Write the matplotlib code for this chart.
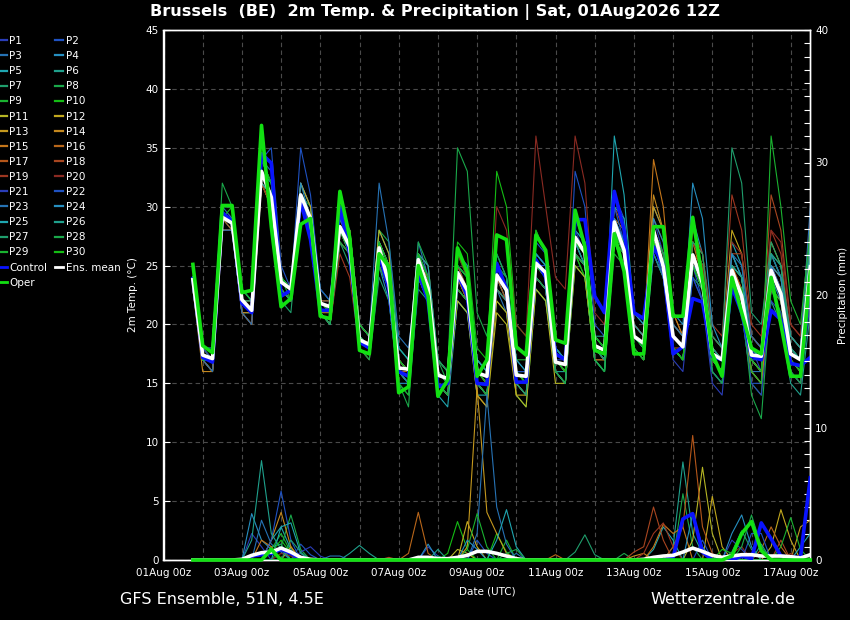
import matplotlib
matplotlib.use('Agg')
import matplotlib.pyplot as plt
import numpy as np
from matplotlib.lines import Line2D

# ---------------- data ----------------
# forecast steps: 6-hourly, +6h .. +384h after 01Aug2026 12Z
steps = np.arange(1, 65)
x_days = 0.5 + 0.25 * steps          # days since 01Aug 00z

tick_days = list(range(0, 17))
tick_labels = ['%02dAug 00z' % (d + 1) if d % 2 == 0 else '' for d in tick_days]

mean_temp = [23.8, 17.4, 17.1, 29.1, 28.6, 22.1, 21.2, 33.0, 30.8, 23.6, 23.0, 31.0,
             29.0, 21.8, 21.5, 28.3, 26.6, 18.7, 18.3, 26.5, 23.5, 16.3, 16.2, 25.5,
             23.1, 15.7, 15.4, 24.4, 22.9, 15.9, 15.6, 24.2, 22.9, 15.7, 15.6, 25.2,
             24.4, 16.8, 16.6, 27.4, 26.1, 18.2, 17.8, 28.7, 26.3, 19.0, 18.4, 28.0,
             24.9, 19.0, 18.1, 25.9, 23.5, 17.5, 17.0, 24.6, 22.4, 17.4, 17.3, 24.6,
             22.6, 17.5, 17.0, 24.9]
oper_temp = [25.1, 18.2, 17.6, 30.1, 30.1, 22.7, 22.9, 36.9, 28.3, 21.5, 22.2, 28.5,
             29.0, 20.7, 20.5, 31.3, 27.4, 17.8, 17.5, 26.0, 24.9, 14.2, 14.7, 25.0,
             22.4, 13.9, 15.3, 26.5, 24.4, 15.6, 17.0, 27.6, 27.2, 18.1, 17.4, 27.6,
             26.3, 18.7, 18.4, 29.7, 26.6, 17.8, 17.5, 27.7, 24.5, 17.5, 17.5, 28.3,
             28.3, 20.7, 20.7, 29.1, 23.8, 17.5, 15.6, 24.0, 21.0, 18.0, 17.5, 24.0,
             20.0, 15.6, 15.6, 24.5]
ctrl_temp = [23.9, 17.2, 16.8, 29.5, 28.8, 21.8, 21.0, 34.5, 33.7, 22.4, 22.9, 30.5,
             27.2, 21.2, 21.2, 30.0, 26.0, 18.5, 18.0, 26.0, 23.0, 16.0, 15.6, 24.4,
             22.0, 14.7, 15.0, 24.4, 22.4, 15.0, 14.9, 25.2, 23.0, 15.1, 15.1, 25.5,
             24.0, 17.5, 17.0, 28.9, 28.9, 22.4, 21.0, 31.3, 28.0, 21.0, 20.5, 26.6,
             25.0, 17.5, 18.1, 22.2, 21.9, 17.3, 17.0, 23.2, 21.0, 17.3, 17.0, 21.2,
             20.4, 16.7, 16.5, 17.2]

p01 = [24,18,17,29, 29,22,21,33, 32,24,23,31, 28,22,22,28, 26,19,18,27, 24,17,16,25, 22,15,14,23, 22,16,15,24, 22,15,15,24, 23,16,16,26, 25,18,17,28, 27,20,19,29, 26,20,19,27, 25,18,17,26, 24,18,16,23, 22,16,15,22]
p02 = [23,17,16,28, 28,22,21,34, 35,25,23,32, 30,23,22,30, 28,20,19,27, 24,16,15,26, 24,17,16,26, 25,17,16,25, 24,17,16,27, 26,18,17,29, 27,19,18,31, 29,21,20,27, 24,18,17,25, 22,16,15,24, 21,15,15,26, 24,19,18,26]
p03 = [24,17,17,30, 29,23,22,34, 33,23,22,30, 29,22,21,29, 28,20,19,28, 26,18,17,27, 24,17,16,25, 23,16,15,23, 21,15,14,24, 23,17,16,28, 27,19,18,27, 25,18,17,26, 24,18,17,25, 23,17,16,24, 22,16,16,25, 23,18,17,28]
p04 = [24,18,18,29, 28,21,21,32, 31,24,23,32, 30,22,21,27, 26,19,18,25, 22,15,15,24, 22,15,14,22, 21,15,14,23, 22,16,15,26, 25,18,17,27, 25,18,17,28, 26,19,18,30, 28,21,20,29, 26,19,18,26, 24,18,17,24, 22,17,16,24]
p05 = [23,17,17,29, 29,22,21,33, 31,24,23,31, 29,21,20,28, 27,19,18,25, 23,16,15,24, 22,14,13,22, 21,14,14,24, 23,16,16,26, 25,18,17,28, 27,19,18,36, 31,21,20,27, 24,19,18,25, 23,17,16,27, 25,19,18,26, 24,18,17,27]
p06 = [24,17,17,28, 28,21,21,32, 30,23,22,31, 29,22,21,29, 28,20,19,27, 25,17,16,25, 24,17,16,26, 25,17,16,24, 22,15,15,23, 22,16,16,27, 26,19,19,29, 27,20,19,28, 25,20,19,27, 25,18,17,23, 21,16,15,22, 20,15,14,21]
p07 = [25,18,17,30, 30,23,22,33, 30,22,21,30, 28,21,20,27, 25,18,17,24, 22,15,14,23, 22,16,15,25, 24,17,16,24, 23,16,15,25, 24,17,16,27, 26,19,18,28, 26,19,18,26, 24,18,17,24, 23,17,16,24, 23,17,16,23, 21,16,15,23]
p08 = [25,18,17,32, 30,22,21,32, 31,23,22,31, 30,23,22,29, 28,20,19,28, 27,18,17,27, 25,17,15,24, 22,15,14,22, 21,14,13,23, 22,16,15,25, 24,17,16,27, 25,18,17,27, 25,19,18,27, 25,18,17,26, 24,17,16,26, 25,19,18,27]
p09 = [24,17,16,29, 29,22,21,34, 32,24,22,30, 28,21,20,27, 26,19,18,26, 24,17,16,26, 25,17,16,26, 24,17,16,25, 24,17,17,28, 26,18,17,26, 24,17,16,26, 25,18,17,27, 25,18,17,25, 23,16,15,23, 21,15,14,25, 24,17,16,24]
p10 = [24,17,17,29, 30,23,22,34, 32,23,22,31, 29,22,21,28, 26,19,18,27, 24,16,15,26, 24,16,15,27, 26,18,17,33, 30,20,19,28, 26,17,16,26, 24,17,16,27, 25,18,17,26, 24,18,17,25, 23,17,16,25, 24,18,17,26, 24,18,17,25]
p11 = [23,17,16,28, 28,21,20,32, 30,23,22,30, 28,21,20,29, 28,20,19,28, 26,17,16,24, 22,15,14,22, 21,14,13,21, 20,14,13,23, 22,15,15,25, 24,17,17,27, 26,19,18,28, 26,19,18,26, 24,17,16,25, 24,17,16,24, 23,17,16,24]
p12 = [24,17,17,29, 29,22,22,33, 31,24,23,32, 30,22,21,28, 26,19,18,26, 24,17,16,25, 23,16,15,24, 22,15,14,22, 21,14,14,24, 23,16,15,26, 25,18,17,28, 26,18,17,27, 25,18,17,27, 26,19,18,28, 26,19,18,27, 25,19,18,26]
p13 = [24,17,16,29, 29,22,21,32, 31,24,23,31, 29,22,21,29, 27,19,18,27, 25,17,16,25, 24,16,15,23, 22,14,13,23, 22,15,14,24, 23,16,15,27, 26,18,17,28, 27,19,18,30, 28,20,19,27, 25,18,17,24, 22,16,15,23, 22,17,16,24]
p14 = [23,16,16,28, 28,21,21,33, 31,24,23,31, 28,21,21,29, 27,20,19,27, 25,17,16,24, 22,15,14,24, 23,16,15,24, 23,16,15,25, 24,17,16,26, 25,18,17,29, 28,20,19,31, 28,21,19,26, 24,18,17,25, 23,17,16,25, 23,17,16,24]
p15 = [24,17,17,29, 29,21,20,32, 30,23,22,31, 29,22,22,29, 27,20,19,27, 25,16,15,24, 23,15,14,23, 22,16,15,24, 23,16,15,25, 24,17,16,26, 25,18,17,27, 27,20,19,34, 30,21,19,27, 24,17,16,23, 22,16,15,23, 22,16,15,24]
p16 = [24,17,17,29, 28,22,21,33, 31,23,22,30, 28,21,20,27, 26,19,18,26, 24,16,16,25, 23,16,15,24, 22,15,14,23, 22,15,15,25, 24,17,16,27, 26,18,18,28, 27,19,18,28, 26,19,18,26, 24,17,16,24, 23,17,16,25, 24,18,17,27]
p17 = [24,18,17,29, 29,22,21,33, 31,24,23,31, 29,22,21,28, 27,19,18,26, 24,17,16,25, 23,16,15,25, 23,16,15,24, 22,15,14,24, 23,16,15,26, 25,17,17,28, 26,19,18,27, 25,18,18,26, 25,18,17,25, 23,17,16,24, 23,17,16,25]
p18 = [24,17,17,29, 29,22,21,33, 31,24,23,31, 29,22,21,28, 28,20,19,27, 25,17,16,25, 24,16,15,24, 23,16,15,24, 23,16,15,25, 24,17,16,27, 26,18,17,30, 28,20,19,28, 26,19,18,25, 23,17,16,26, 26,19,18,31, 28,20,19,28]
p19 = [23,17,16,28, 28,21,20,32, 30,23,22,30, 28,21,20,26, 24,18,17,25, 23,16,15,24, 22,15,14,23, 22,15,14,23, 22,16,15,25, 24,17,16,27, 26,19,18,28, 27,20,19,29, 27,20,19,28, 26,20,19,31, 28,20,19,28, 26,19,18,27]
p20 = [24,17,17,29, 29,22,21,33, 31,24,23,31, 29,22,21,28, 26,19,18,26, 24,17,16,26, 25,17,16,26, 24,17,16,30, 28,20,19,36, 30,24,23,36, 32,21,20,29, 27,20,19,28, 26,20,19,27, 25,19,18,27, 26,19,18,28, 27,20,19,29]
p21 = [24,17,17,29, 29,22,21,33, 31,24,23,31, 29,22,21,28, 27,19,18,26, 24,16,15,25, 23,16,15,24, 23,15,15,24, 23,16,15,25, 25,17,17,28, 26,18,18,29, 27,19,18,27, 24,17,16,24, 22,15,14,23, 21,15,14,22, 21,16,15,23]
p22 = [24,18,17,30, 30,22,21,33, 31,24,23,35, 31,23,22,29, 27,19,18,26, 23,16,15,25, 23,15,14,24, 23,15,15,24, 23,16,16,26, 25,18,17,33, 30,20,19,30, 27,19,18,27, 25,18,17,24, 22,16,15,24, 23,17,17,25, 23,18,17,24]
p23 = [23,17,16,28, 28,21,20,33, 31,23,22,31, 28,21,20,28, 27,20,19,32, 27,19,18,25, 23,16,15,24, 23,15,14,25, 23,16,15,24, 23,16,15,26, 25,18,17,28, 26,19,18,26, 24,18,17,25, 24,18,17,26, 25,19,18,26, 24,19,18,30]
p24 = [24,17,17,29, 29,22,21,33, 32,24,23,32, 29,22,21,29, 27,20,19,27, 25,17,16,26, 24,16,15,25, 24,17,16,25, 23,16,15,25, 24,17,16,27, 25,18,17,29, 27,19,18,29, 27,20,19,32, 29,20,18,26, 24,17,16,25, 24,18,17,26]
p25 = [24,17,17,29, 29,22,21,32, 31,23,22,30, 28,21,20,28, 27,19,18,27, 25,18,17,26, 25,17,16,25, 24,17,16,26, 24,17,16,26, 25,18,17,27, 26,19,18,30, 29,20,19,28, 26,19,18,25, 23,17,16,25, 24,18,17,24, 23,17,16,27]
p26 = [24,17,17,29, 29,22,22,34, 32,24,23,31, 29,22,21,28, 26,19,18,26, 24,16,15,24, 22,15,14,23, 22,15,14,23, 22,15,14,24, 23,16,15,27, 25,17,16,28, 26,19,18,27, 25,19,18,26, 24,18,17,25, 24,18,17,26, 25,19,18,28]
p27 = [24,17,17,29, 29,22,21,33, 31,24,23,31, 29,22,21,28, 27,19,18,26, 24,17,16,25, 23,16,15,24, 23,16,15,24, 23,15,14,25, 24,16,15,26, 25,18,17,27, 26,19,18,27, 25,19,18,27, 26,19,18,35, 32,21,20,27, 25,18,17,26]
p28 = [24,17,17,30, 30,23,22,33, 31,23,22,30, 28,21,20,27, 26,18,17,25, 23,15,13,24, 24,17,16,35, 33,21,19,26, 24,16,15,24, 23,16,15,26, 25,17,16,28, 26,18,17,28, 26,18,17,26, 24,16,15,24, 22,14,12,23, 22,16,15,24]
p29 = [24,17,17,29, 29,22,21,33, 31,24,23,31, 29,22,21,28, 26,19,18,26, 23,15,14,24, 22,15,14,23, 22,15,14,24, 23,16,15,25, 24,17,16,27, 26,19,18,28, 26,18,17,27, 25,18,17,26, 24,17,16,24, 23,16,15,36, 30,22,20,28]
p30 = [24,17,17,30, 30,22,21,34, 32,24,23,31, 29,22,21,29, 28,20,19,27, 25,17,16,26, 24,16,15,25, 24,16,15,24, 23,16,15,25, 24,17,16,27, 26,19,18,28, 27,19,18,27, 25,18,17,25, 23,17,16,24, 23,17,16,24, 23,17,16,24]

member_temps = [p01, p02, p03, p04, p05, p06, p07, p08, p09, p10,
                p11, p12, p13, p14, p15, p16, p17, p18, p19, p20,
                p21, p22, p23, p24, p25, p26, p27, p28, p29, p30]

# 6-hourly precipitation (mm): member -> list of (step, amount); all other steps 0
member_precip = {
    1: [(7, 2.0), (8, 1.0), (25, 1.0), (26, 0.3)],
    2: [(12, 1.2), (13, 0.4), (30, 1.5), (31, 0.5)],
    3: [(8, 3.0), (9, 1.2), (10, 0.6), (34, 0.5)],
    4: [(7, 3.5), (8, 1.5), (9, 0.8), (25, 1.2)],
    5: [(9, 1.5), (10, 2.5), (11, 0.8), (48, 0.8), (49, 2.5), (50, 1.5)],
    6: [(17, 0.5), (18, 1.1), (19, 0.5), (50, 1.0), (51, 7.4), (52, 2.0), (53, 0.5)],
    7: [(9, 1.0), (10, 1.2), (40, 0.6), (41, 1.9), (42, 0.4)],
    8: [(10, 1.0), (11, 3.4), (12, 0.8), (45, 0.5), (51, 5.0), (52, 1.0)],
    9: [(9, 0.8), (10, 2.0), (11, 0.6), (33, 1.5)],
    10: [(27, 0.5), (28, 2.9), (29, 0.8), (32, 2.0), (33, 0.6)],
    11: [(28, 0.8), (29, 0.5), (52, 1.5), (53, 7.0), (54, 2.0)],
    12: [(11, 1.0), (29, 2.9), (30, 1.0), (54, 4.8), (55, 1.0), (60, 1.0), (61, 3.8), (62, 1.5)],
    13: [(29, 1.0), (30, 13.0), (31, 3.6), (32, 2.0), (33, 0.5), (63, 2.5), (64, 3.0)],
    14: [(9, 1.5), (10, 3.6), (11, 1.0), (46, 0.3), (47, 0.5)],
    15: [(8, 1.5), (9, 1.0), (48, 1.0), (49, 2.7), (50, 2.0), (51, 2.5)],
    16: [(23, 0.5), (24, 3.6), (25, 0.5), (38, 0.4), (59, 0.8), (60, 2.5), (61, 1.0)],
    17: [(50, 1.0), (51, 2.5), (52, 9.4), (53, 2.5), (54, 0.5)],
    18: [(21, 0.2), (46, 0.6), (47, 1.0), (48, 4.0), (49, 1.5), (61, 1.5)],
    19: [(47, 0.5), (48, 2.0), (49, 2.8), (50, 1.0), (62, 0.5)],
    20: [(10, 0.5), (11, 0.3), (56, 0.5), (57, 1.0)],
    21: [(12, 0.6), (13, 1.0), (14, 0.3), (56, 1.5), (57, 0.8)],
    22: [(9, 1.5), (10, 5.2), (11, 1.5), (53, 1.5), (58, 2.0), (59, 2.0)],
    23: [(15, 0.3), (16, 0.3), (30, 2.0), (31, 12.5), (32, 4.0), (33, 1.2)],
    24: [(29, 1.5), (30, 0.8), (52, 3.5), (53, 1.0), (56, 2.0), (57, 3.4), (58, 1.0)],
    25: [(10, 2.5), (11, 2.8), (12, 0.5), (32, 1.5), (33, 3.8), (34, 1.0), (63, 1.0), (64, 2.0)],
    26: [(7, 1.5), (8, 7.5), (9, 2.0), (10, 0.8), (26, 0.8), (59, 1.2)],
    27: [(11, 1.5), (12, 0.6), (26, 0.3), (56, 0.6), (57, 2.2), (58, 0.8)],
    28: [(33, 0.5), (34, 0.8), (57, 1.0), (58, 3.4), (59, 1.0)],
    29: [(29, 0.8), (30, 3.5), (31, 1.0), (61, 1.0), (62, 3.2), (63, 0.8)],
    30: [(9, 0.6), (10, 1.5), (11, 0.5), (55, 0.8), (56, 0.5)],
}
ctrl_precip = {7: 0.3, 8: 0.4, 9: 0.5, 10: 0.8, 11: 0.5, 12: 0.1,
               50: 0.2, 51: 3.1, 52: 3.5, 53: 0.6, 57: 0.3, 58: 0.1,
               59: 2.8, 60: 1.6, 61: 0.3, 62: 0.2, 63: 0.2, 64: 6.2}
oper_precip = {9: 0.8, 56: 0.3, 57: 2.0, 58: 2.9, 59: 0.7}
mean_precip = {6: 0.05, 7: 0.35, 8: 0.55, 9: 0.6, 10: 0.9, 11: 0.6, 12: 0.2, 13: 0.05,
               24: 0.2, 25: 0.2, 26: 0.1, 27: 0.1, 28: 0.2, 29: 0.35, 30: 0.65,
               31: 0.65, 32: 0.5, 33: 0.3, 34: 0.1, 47: 0.05, 48: 0.2, 49: 0.3,
               50: 0.35, 51: 0.6, 52: 0.9, 53: 0.65, 54: 0.35, 55: 0.2, 56: 0.3,
               57: 0.4, 58: 0.4, 59: 0.3, 60: 0.3, 61: 0.3, 62: 0.25, 63: 0.15, 64: 0.4}

member_colors20 = ['#2a3db8', '#1f52c2', '#2672b4', '#268fc0', '#1fa6b0', '#1fa08c',
                   '#1f9e6c', '#1aa84a', '#1ab230', '#14bc14', '#b6b624', '#c2a81e',
                   '#c4981e', '#c4881e', '#c4761a', '#b8661a', '#b4561a', '#a84620',
                   '#9c3620', '#8a2a22']


def series_from(events):
    arr = np.zeros(len(steps))
    for k, v in events:
        arr[k - 1] = v
    return arr


# ---------------- figure ----------------
fig = plt.figure(figsize=(8.5, 6.2), dpi=100, facecolor='black')
rect = [163.5 / 850, 60 / 620, (810.3 - 163.5) / 850, 530 / 620]
ax = fig.add_axes(rect)
ax.set_facecolor('black')
ax2 = ax.twinx()

handles = []
for i, temps in enumerate(member_temps):
    col = member_colors20[i % 20]
    ax.plot(x_days, temps, color=col, lw=0.8, zorder=2)
    ax2.plot(x_days, series_from(member_precip[i + 1]), color=col, lw=0.8, zorder=2)
    handles.append(Line2D([], [], color=col, lw=1.6, label='P%d' % (i + 1)))

ctrl_p = series_from(ctrl_precip.items())
oper_p = series_from(oper_precip.items())
mean_p = series_from(mean_precip.items())

ax.plot(x_days, ctrl_temp, color='#0a14ff', lw=2.6, zorder=4)
ax.plot(x_days, mean_temp, color='white', lw=2.6, zorder=5)
ax.plot(x_days, oper_temp, color='#12e012', lw=2.6, zorder=6)
ax2.plot(x_days, ctrl_p, color='#0a14ff', lw=2.6, zorder=4)
ax2.plot(x_days, mean_p, color='white', lw=2.6, zorder=5)
ax2.plot(x_days, oper_p, color='#12e012', lw=2.6, zorder=6, clip_on=False)

h_ctrl = Line2D([], [], color='#0a14ff', lw=2, label='Control')
h_mean = Line2D([], [], color='white', lw=2, label='Ens. mean')
h_oper = Line2D([], [], color='#12e012', lw=2, label='Oper')

# axes styling
ax.set_xlim(0, 16.5)
ax.set_ylim(0, 45)
ax2.set_ylim(0, 40)
ax.set_yticks(np.arange(0, 46, 5))
ax2.set_yticks(np.arange(0, 41, 10))
ax2.set_yticks(np.arange(0, 41, 1), minor=True)
ax.set_xticks(tick_days)
ax.set_xticklabels(tick_labels)
ax.grid(True, color='#4a4a4a', ls=(0, (4, 3)), lw=0.8)
ax.set_axisbelow(True)

for a in (ax, ax2):
    for s in a.spines.values():
        s.set_color('white')
        s.set_linewidth(1.0)
    a.tick_params(colors='white', labelsize=7.5, direction='in', length=4, width=0.8)
ax2.tick_params(which='minor', direction='in', length=4, width=0.8, colors='white')
ax.tick_params(axis='x', length=0, pad=6)

ax.set_ylabel('2m Temp. (°C)', color='white', fontsize=7.5, labelpad=5)
ax2.set_ylabel('Precipitation (mm)', color='white', fontsize=7.5, labelpad=7)
ax.set_xlabel('Date (UTC)', color='white', fontsize=7.5, labelpad=6)

ax.set_position(rect)
ax2.set_position(rect)

fig.text(435 / 850, 1 - 12 / 620, 'Brussels  (BE)  2m Temp. & Precipitation | Sat, 01Aug2026 12Z',
         color='white', fontsize=11.6, fontweight='bold', ha='center', va='center')
fig.text(120 / 850, 1 - 599 / 620, 'GFS Ensemble, 51N, 4.5E', color='white',
         fontsize=11.5, ha='left', va='center')
fig.text(795 / 850, 1 - 599 / 620, 'Wetterzentrale.de', color='white',
         fontsize=11.5, ha='right', va='center')

col1 = [handles[i] for i in range(0, 30, 2)] + [h_ctrl, h_oper]
col2 = [handles[i] for i in range(1, 30, 2)] + [h_mean]
leg_handles = col1 + col2
fig.legend(handles=leg_handles, labels=[h.get_label() for h in leg_handles],
           ncol=2, loc='upper left', bbox_to_anchor=(-0.002, 1 - 36 / 620),
           frameon=False, fontsize=7.5, labelcolor='white', handlelength=0.8,
           handletextpad=0.25, columnspacing=0.75, labelspacing=0.49,
           borderaxespad=0, borderpad=0)

fig.savefig('out.png', dpi=100, facecolor='black')
